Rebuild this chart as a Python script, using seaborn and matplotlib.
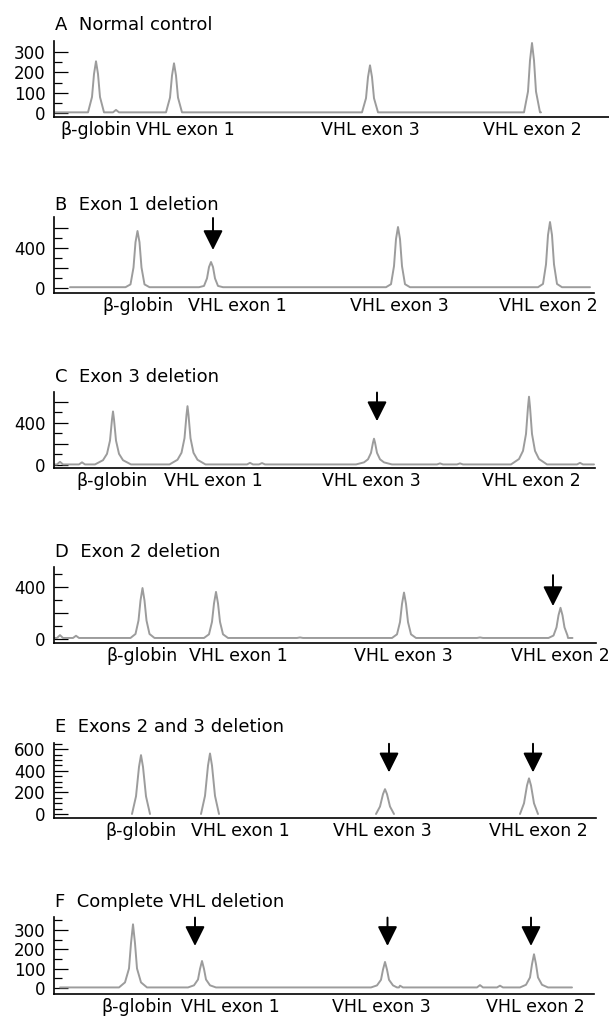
import pandas as pd
import matplotlib
matplotlib.use('Agg')
import matplotlib.pyplot as plt
import seaborn as sns

sns.set_style('white')
plt.rcParams['font.family'] = ['DejaVu Sans']
plt.rcParams['text.color'] = 'black'
plt.rcParams['xtick.color'] = 'black'
plt.rcParams['ytick.color'] = 'black'

# ---- data ----
labels = ['β-globin', 'VHL exon 1', 'VHL exon 3', 'VHL exon 2']
titles = ['A  Normal control', 'B  Exon 1 deletion', 'C  Exon 3 deletion',
          'D  Exon 2 deletion', 'E  Exons 2 and 3 deletion', 'F  Complete VHL deletion']

# peak centres (scan position) and peak heights
peak_pos_A = [96, 174, 370, 532]
peak_h_A = [255, 245, 235, 345]
peak_pos_B = [137.5, 211, 398, 550]
peak_h_B = [570, 260, 610, 660]
peak_pos_C = [113, 187.5, 374, 529]
peak_h_C = [510, 560, 250, 650]
peak_pos_D = [142.5, 216, 404, 560.5]
peak_h_D = [395, 365, 360, 242]
peak_pos_E = [141, 210, 385, 529]
peak_h_E = [545, 560, 230, 330]
peak_pos_F = [133, 202, 385, 534]
peak_h_F = [330, 140, 135, 175]

# peak profile (offset from centre, fraction of height) per panel
shape_off_A = [-8, -4, -2, 0, 2, 4, 8]
shape_frac_A = [0, 0.3, 0.75, 1, 0.75, 0.3, 0]
shape_off_B = [-12, -7, -4, -2, 0, 2, 4, 7, 12]
shape_frac_B = [0, 0.05, 0.35, 0.8, 1, 0.8, 0.35, 0.05, 0]
shape_off_C = [-18, -10, -6, -3, -1, 0, 1, 3, 6, 10, 18]
shape_frac_C = [0, 0.08, 0.2, 0.45, 0.85, 1, 0.85, 0.45, 0.2, 0.08, 0]
shape_off_D = [-12, -7, -4, -2, 0, 2, 4, 7, 12]
shape_frac_D = [0, 0.08, 0.35, 0.75, 1, 0.75, 0.35, 0.08, 0]
shape_off_E = [-9, -5, -2, 0, 2, 5, 9]
shape_frac_E = [0, 0.3, 0.8, 1, 0.8, 0.3, 0]
shape_off_F = [-14, -8, -4, -2, 0, 2, 4, 8, 14]
shape_frac_F = [0, 0.08, 0.3, 0.7, 1, 0.7, 0.3, 0.08, 0]

# baseline: start, end, level (None = no baseline drawn)
baseline_A = [54, 541, 3]
baseline_B = [70, 590, 8]
baseline_C = [54, 594, 5]
baseline_D = [54, 568, 8]
baseline_E = None
baseline_F = [60, 572, 3]

# small baseline bumps (noise)
bump_x_A = [116]
bump_h_A = [15]
bump_x_C = [60, 82, 250, 262, 440, 460, 580]
bump_h_C = [30, 25, 20, 18, 15, 15, 20]
bump_x_D = [60, 76, 300, 480]
bump_h_D = [30, 25, 12, 12]
bump_x_F = [400, 480, 500]
bump_h_F = [12, 15, 12]

# x label centres
label_pos_A = [96, 185, 370, 532]
label_pos_B = [138, 237, 399, 548]
label_pos_C = [112, 213, 371, 531]
label_pos_D = [142, 238, 403, 560]
label_pos_E = [141, 240, 382, 538]
label_pos_F = [137, 230, 381, 535]

# arrows marking reduced peaks: x, shaft top, tip
arrow_x_B = [213]
arrow_top_B = [700]
arrow_tip_B = [380]
arrow_x_C = [377]
arrow_top_C = [690]
arrow_tip_C = [417]
arrow_x_D = [553]
arrow_top_D = [495]
arrow_tip_D = [255]
arrow_x_E = [389, 533]
arrow_top_E = [650, 650]
arrow_tip_E = [385, 385]
arrow_x_F = [195, 387.5, 531]
arrow_top_F = [365, 365, 365]
arrow_tip_F = [218, 218, 218]

# y ticks: major, labelled majors, minor
yt_major = {'A': [0, 100, 200, 300], 'B': [0, 200, 400, 600], 'C': [0, 200, 400, 600],
            'D': [0, 200, 400], 'E': [0, 200, 400, 600], 'F': [0, 100, 200, 300]}
yt_labelled = {'A': [0, 100, 200, 300], 'B': [0, 400], 'C': [0, 400],
               'D': [0, 400], 'E': [0, 200, 400, 600], 'F': [0, 100, 200, 300]}
yt_minor = {'A': [50, 150, 250], 'B': [100, 300, 500], 'C': [100, 300, 500],
            'D': [100, 300, 500], 'E': [50, 100, 150, 250, 300, 350, 450, 500, 550, 650],
            'F': [50, 150, 250, 350]}

panels = {
    'A': (peak_pos_A, peak_h_A, shape_off_A, shape_frac_A, baseline_A, bump_x_A, bump_h_A,
          label_pos_A, [], [], []),
    'B': (peak_pos_B, peak_h_B, shape_off_B, shape_frac_B, baseline_B, [], [],
          label_pos_B, arrow_x_B, arrow_top_B, arrow_tip_B),
    'C': (peak_pos_C, peak_h_C, shape_off_C, shape_frac_C, baseline_C, bump_x_C, bump_h_C,
          label_pos_C, arrow_x_C, arrow_top_C, arrow_tip_C),
    'D': (peak_pos_D, peak_h_D, shape_off_D, shape_frac_D, baseline_D, bump_x_D, bump_h_D,
          label_pos_D, arrow_x_D, arrow_top_D, arrow_tip_D),
    'E': (peak_pos_E, peak_h_E, shape_off_E, shape_frac_E, baseline_E, [], [],
          label_pos_E, arrow_x_E, arrow_top_E, arrow_tip_E),
    'F': (peak_pos_F, peak_h_F, shape_off_F, shape_frac_F, baseline_F, bump_x_F, bump_h_F,
          label_pos_F, arrow_x_F, arrow_top_F, arrow_tip_F),
}

# ---- layout (pixels): left, right, top, bottom, ylim, title y ----
W, H = 609, 1017
layout = {
    'A': (54, 609, 41, 117, (-20, 355), 25),
    'B': (54, 594, 217, 293, (-50, 710), 205),
    'C': (54, 595, 392, 468, (-29, 695), 377),
    'D': (54, 596, 567, 643, (-31, 558), 552),
    'E': (54, 596, 743, 818, (-37, 657), 727),
    'F': (54, 594, 917, 994, (-31, 368), 902),
}


def build_trace(pos, hts, offs, fracs, base, bx, bh):
    rows = []
    level = 0 if base is None else base[2]
    for i, (c, h) in enumerate(zip(pos, hts)):
        for o, f in zip(offs, fracs):
            rows.append((c + o, level + (h - level) * f, i if base is None else 0))
    for c, h in zip(bx, bh):
        rows += [(c - 3, level, 0), (c, h, 0), (c + 3, level, 0)]
    if base is not None:
        rows += [(base[0], level, 0), (base[1], level, 0)]
    return pd.DataFrame(rows, columns=['x', 'y', 'seg']).sort_values(['seg', 'x'])


fig = plt.figure(figsize=(W / 100, H / 100), dpi=100)

for key, title in zip('ABCDEF', titles):
    (pos, hts, offs, fracs, base, bx, bh, lpos, ax_x, ax_top, ax_tip) = panels[key]
    l, r, t, b, ylim, ty = layout[key]
    ax = fig.add_axes([l / W, 1 - b / H, (r - l) / W, (b - t) / H])
    df = build_trace(pos, hts, offs, fracs, base, bx, bh)
    sns.lineplot(data=df, x='x', y='y', units='seg', estimator=None, sort=False,
                 color='#9c9c9c', lw=1.4, ax=ax)
    ax.set_xlim(l, r)
    ax.set_ylim(*ylim)
    ax.set_xlabel('')
    ax.set_ylabel('')

    # spines
    sns.despine(ax=ax, top=True, right=True)
    for s in ['left', 'bottom']:
        ax.spines[s].set_linewidth(1.2)
        ax.spines[s].set_color('black')

    # y ticks
    ax.set_yticks(yt_major[key])
    ax.set_yticklabels([str(v) if v in yt_labelled[key] else '' for v in yt_major[key]])
    ax.set_yticks(yt_minor[key], minor=True)
    ax.tick_params(axis='y', which='major', direction='in', length=10, width=0.9,
                   pad=6, labelsize=12, left=True)
    ax.tick_params(axis='y', which='minor', direction='in', length=5.5, width=0.9, left=True)

    # x labels under peaks
    ax.set_xticks(lpos)
    ax.set_xticklabels(labels)
    ax.tick_params(axis='x', length=0, pad=3, labelsize=12.5)

    # arrows
    for x, top, tip in zip(ax_x, ax_top, ax_tip):
        ax.annotate('', xy=(x, tip), xytext=(x, top),
                    arrowprops=dict(arrowstyle='-|>,head_length=1.2,head_width=0.6',
                                    color='black', lw=1.4, shrinkA=0, shrinkB=0,
                                    mutation_scale=10))

    fig.text(55 / W, 1 - ty / H, title, fontsize=13, ha='left', va='center')

fig.savefig('out.png', dpi=100)
